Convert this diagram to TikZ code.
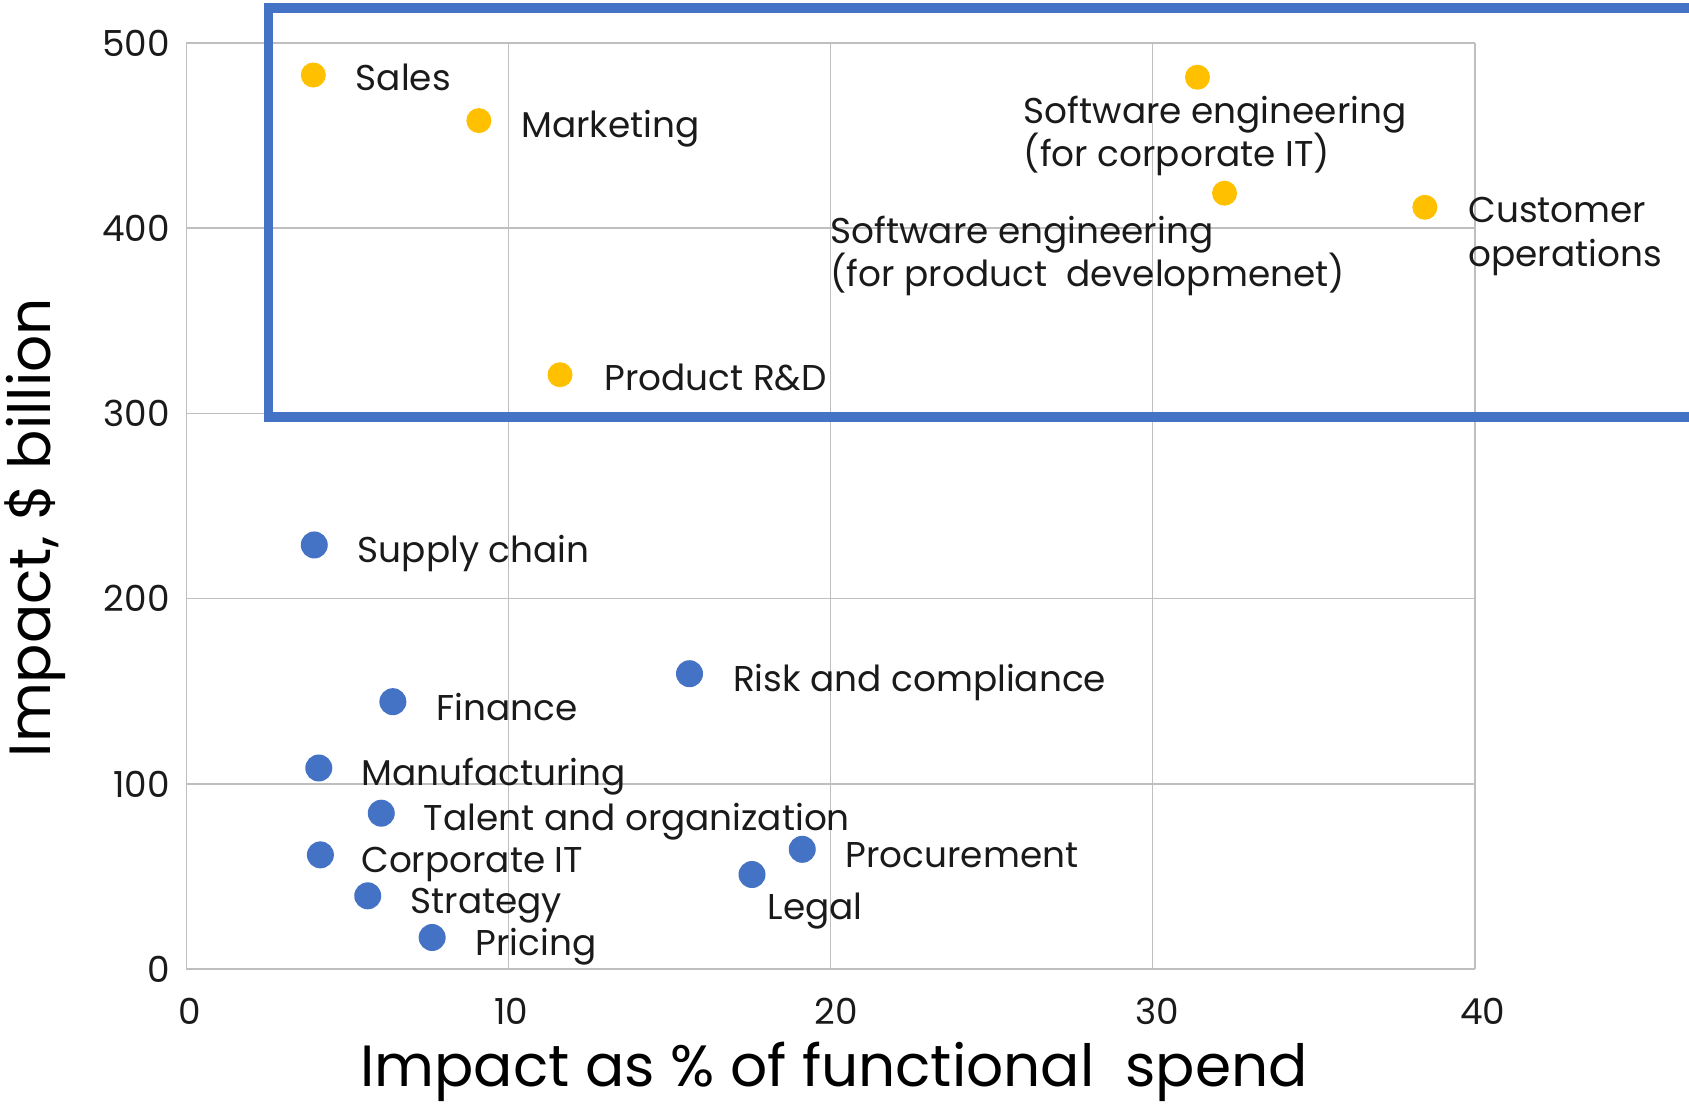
\documentclass[tikz,border=0pt]{standalone}
\usepackage{fontspec}
\setmainfont{Poppins}
\usepackage{tikz}

\definecolor{gold}{HTML}{FFC000}
\definecolor{officeblue}{HTML}{4472C4}
\definecolor{gridgray}{HTML}{BFBFBF}
\definecolor{ink}{HTML}{1A1A1A}

\begin{document}
\begin{tikzpicture}[x=0.3221cm, y=0.01853cm,
	gold dot/.style={shape=circle, fill=gold, inner sep=0pt, minimum size=0.25cm},
	blue dot/.style={shape=circle, fill=officeblue, inner sep=0pt, minimum size=0.27cm},
	lbl/.style={anchor=base west, inner sep=0pt, align=left, text=ink, font=\fontsize{10.2}{12.4}\selectfont},
	tick/.style={inner sep=0pt, text=ink, font=\fontsize{10.2}{12.2}\selectfont},
	axis title/.style={inner sep=0pt, text=black, font=\fontsize{16.55}{20}\selectfont}]
	
	\path[use as bounding box] (-5.787,-73.12) rectangle (46.65,523.2);
	\clip (-5.787,-73.12) rectangle (46.65,523.2);
	
	% grid and highlight box
	\draw[gridgray, line width=0.45pt, xstep=10, ystep=100] (0,0) grid (40,500);
	\draw[officeblue, line width=0.095cm] (2.546,298) rectangle (48,518.9);
	
	% axis ticks
	\node[tick, anchor=east] (y0)   at (-0.50,0)   {0};
	\node[tick, anchor=east] (y100) at (-0.50,100) {100};
	\node[tick, anchor=east] (y200) at (-0.50,200) {200};
	\node[tick, anchor=east] (y300) at (-0.50,300) {300};
	\node[tick, anchor=east] (y400) at (-0.50,400) {400};
	\node[tick, anchor=east] (y500) at (-0.50,500) {500};
	\node[tick] (x0)  at (0.09,-22.8)  {0};
	\node[tick] (x10) at (10.09,-22.8) {10};
	\node[tick] (x20) at (20.18,-22.8) {20};
	\node[tick] (x30) at (30.13,-22.8) {30};
	\node[tick] (x40) at (40.25,-22.8) {40};
	
	\node[axis title, anchor=base] (xtitle) at (20.11,-63.3) {Impact as \% of functional\ \ spend};
	\node[axis title, anchor=base, rotate=90] (ytitle) at (-4.22,238.3) {Impact, \$ billion};
	
	% functions in the box
	\node[gold dot] (sales) at (3.94, 482.7)  {};
	\node[gold dot] (mkt)   at (9.08, 458.1)  {};
	\node[gold dot] (rnd)   at (11.6, 320.9)  {};
	\node[gold dot] (secit) at (31.39, 481.5) {};
	\node[gold dot] (sepd)  at (32.23, 418.9) {};
	\node[gold dot] (cops)  at (38.45, 411.3) {};
	
	\node[lbl] (sales-l) at (5.24, 474.6)  {Sales};
	\node[lbl] (mkt-l)   at (10.38, 449.1) {Marketing};
	\node[lbl] (rnd-l)   at (12.96, 312.4) {Product R\&D};
	\node[lbl] (secit-l) at (25.98, 433.2) {Software engineering\\(for corporate IT)};
	\node[lbl] (sepd-l)  at (19.98, 368.3) {Software engineering\\(for product\ \ developmenet)};
	\node[lbl] (cops-l)  at (39.78, 379.3) {Customer\\operations};
	
	% other functions
	\node[blue dot] (supply) at (3.97, 229)   {};
	\node[blue dot] (fin)    at (6.41, 144.4) {};
	\node[blue dot] (manuf)  at (4.11, 108.6) {};
	\node[blue dot] (talent) at (6.05, 84.2)  {};
	\node[blue dot] (corpit) at (4.16, 61.7)  {};
	\node[blue dot] (strat)  at (5.63, 39.6)  {};
	\node[blue dot] (price)  at (7.63, 17.1)  {};
	\node[blue dot] (risk)   at (15.62, 159.5) {};
	\node[blue dot] (proc)   at (19.12, 64.7)  {};
	\node[blue dot] (legal)  at (17.56, 51.1)  {};
	
	\node[lbl] (supply-l) at (5.30, 219.5)  {Supply chain};
	\node[lbl] (fin-l)    at (7.74, 134.3)  {Finance};
	\node[lbl] (manuf-l)  at (5.41, 98.9)   {Manufacturing};
	\node[lbl] (talent-l) at (7.35, 74.7)   {Talent and organization};
	\node[lbl] (corpit-l) at (5.41, 52.2)   {Corporate IT};
	\node[lbl] (strat-l)  at (6.94, 30.1)   {Strategy};
	\node[lbl] (price-l)  at (8.96, 7.6)    {Pricing};
	\node[lbl] (risk-l)   at (16.95, 150.1) {Risk and compliance};
	\node[lbl] (proc-l)   at (20.45, 54.9)  {Procurement};
	\node[lbl] (legal-l)  at (18.02, 26.7)  {Legal};
	
\end{tikzpicture}
\end{document}
